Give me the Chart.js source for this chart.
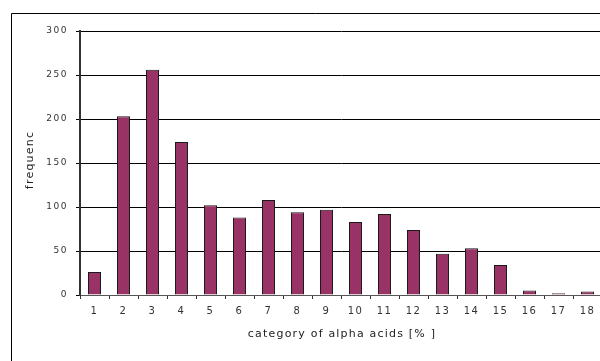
<!DOCTYPE html>
<html>
<head>
<meta charset="utf-8">
<script src="https://cdn.jsdelivr.net/npm/chart.js@4/dist/chart.umd.min.js"></script>
<style>
  html, body { margin: 0; padding: 0; background: #fff; overflow: hidden; }
  #wrap { width: 620px; height: 361px; }
</style>
</head>
<body>
<div id="wrap"><canvas id="c" width="620" height="361"></canvas></div>
<script>
// Alpha-acid categories and how many samples fell into each
const categories = ['1','2','3','4','5','6','7','8','9','10','11','12','13','14','15','16','17','18'];
const frequency = [26, 203, 256, 174, 102, 88, 108, 94, 97, 83, 92, 74, 47, 53, 34, 5, 2, 4];
const yTicks = [0, 50, 100, 150, 200, 250, 300];
const xTitle = 'category of alpha acids [% ]';
const yTitle = 'frequenc';

const FONT = '"DejaVu Sans", "Liberation Sans", sans-serif';

// Spaced-out lettering and the outer frame / axis titles
const decor = {
  id: 'decor',
  beforeDraw(chart) {
    chart.ctx.letterSpacing = '1.5px';
  },
  afterDraw(chart) {
    const ctx = chart.ctx;
    const area = chart.chartArea;
    ctx.save();
    ctx.strokeStyle = '#000';
    ctx.lineWidth = 1;
    ctx.beginPath();
    ctx.moveTo(11.5, chart.height);
    ctx.lineTo(11.5, 13.5);
    ctx.lineTo(chart.width, 13.5);
    ctx.stroke();

    ctx.fillStyle = '#222';
    ctx.font = '11px ' + FONT;
    ctx.letterSpacing = '1.2px';
    ctx.textAlign = 'center';
    ctx.textBaseline = 'middle';
    ctx.fillText(xTitle, 342, 334);

    ctx.translate(30, 160);
    ctx.rotate(-Math.PI / 2);
    ctx.fillText(yTitle, 0, 0);
    ctx.restore();
  }
};

new Chart(document.getElementById('c'), {
  type: 'bar',
  data: {
    labels: categories,
    datasets: [{
      data: frequency,
      backgroundColor: '#993366',
      borderColor: '#1a1a1a',
      borderWidth: 1,
      categoryPercentage: 1,
      barPercentage: 0.45
    }]
  },
  options: {
    responsive: false,
    animation: false,
    devicePixelRatio: 1,
    layout: { padding: { top: 31, left: 0, right: 18, bottom: 0 } },
    plugins: { legend: { display: false }, tooltip: { enabled: false } },
    scales: {
      x: {
        grid: { display: true, drawOnChartArea: false, drawTicks: true, tickLength: 4, color: '#333', offset: true },
        border: { display: true, color: '#555', width: 1 },
        ticks: { color: '#333', font: { family: FONT, size: 10 }, padding: 6, maxRotation: 0, autoSkip: false },
        afterFit(scale) { scale.height = 66; }
      },
      y: {
        min: 0,
        max: 300,
        afterBuildTicks(scale) { scale.ticks = yTicks.map(v => ({ value: v })); },
        grid: { color: '#000', lineWidth: 1, drawTicks: true, tickLength: 4 },
        border: { display: true, color: '#333', width: 2 },
        ticks: { color: '#333', font: { family: FONT, size: 9 }, padding: 8 },
        afterFit(scale) { scale.width = 80; }
      }
    }
  },
  plugins: [decor]
});
</script>
</body>
</html>
